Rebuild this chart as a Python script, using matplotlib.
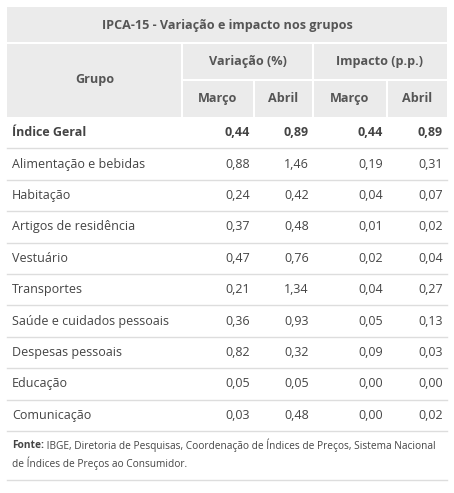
import matplotlib
matplotlib.use("Agg")
import matplotlib.pyplot as plt
from matplotlib.patches import Rectangle

plt.rcParams['font.family'] = ['Open Sans', 'DejaVu Sans']

title = "IPCA-15 - Variação e impacto nos grupos"
group_header = "Grupo"
block_headers = ["Variação (%)", "Impacto (p.p.)"]
month_headers = ["Março", "Abril", "Março", "Abril"]

grupos = ["Índice Geral", "Alimentação e bebidas", "Habitação", "Artigos de residência",
          "Vestuário", "Transportes", "Saúde e cuidados pessoais", "Despesas pessoais",
          "Educação", "Comunicação"]
var_marco = ["0,44", "0,88", "0,24", "0,37", "0,47", "0,21", "0,36", "0,82", "0,05", "0,03"]
var_abril = ["0,89", "1,46", "0,42", "0,48", "0,76", "1,34", "0,93", "0,32", "0,05", "0,48"]
imp_marco = ["0,44", "0,19", "0,04", "0,01", "0,02", "0,04", "0,05", "0,09", "0,00", "0,00"]
imp_abril = ["0,89", "0,31", "0,07", "0,02", "0,04", "0,27", "0,13", "0,03", "0,00", "0,02"]

fonte_bold = "Fonte:"
fonte_line1 = " IBGE, Diretoria de Pesquisas, Coordenação de Índices de Preços, Sistema Nacional"
fonte_line2 = "de Índices de Preços ao Consumidor."

W, H = 454, 493
fig = plt.figure(figsize=(W / 100, H / 100), dpi=100)
ax = fig.add_axes([0, 0, 1, 1])
ax.set_xlim(0, W)
ax.set_ylim(H, 0)
ax.axis('off')
renderer = fig.canvas.get_renderer()


def fit_size(s, target_px, weight='normal'):
    # font size that makes string s about target_px wide
    t = fig.text(0, 0, s, fontsize=10, fontweight=weight)
    w = t.get_window_extent(renderer=renderer).width
    t.remove()
    return 10 * target_px / w


head_bg = '#ebebeb'
head_txt = '#555555'
body_txt = '#444444'
line_col = '#dddddd'

x0, x1 = 7, 447
col_x = [182, 254, 313, 387]          # column borders
num_right = [250, 309, 383, 443]      # right edge of numbers
y_top, y_h1, y_h2, y_body = 7, 43, 80, 117
row_h = 31.4

# header background and white separators
ax.add_patch(Rectangle((x0, y_top), x1 - x0, y_body - y_top, color=head_bg, lw=0))
ax.plot([x0, x1], [y_h1, y_h1], color='white', lw=1.5)
ax.plot([col_x[0], x1], [y_h2, y_h2], color='white', lw=1.5)
for cx in (col_x[0], col_x[2]):
    ax.plot([cx, cx], [y_h1, y_body], color='white', lw=1.5)
for cx in (col_x[1], col_x[3]):
    ax.plot([cx, cx], [y_h2, y_body], color='white', lw=1.5)

hw = 'bold'
hfs = fit_size(title, 250, hw)
ax.text((x0 + x1) / 2, (y_top + y_h1) / 2, title, ha='center', va='center',
        fontsize=hfs, fontweight=hw, color=head_txt)
ax.text((x0 + col_x[0]) / 2, (y_h1 + y_body) / 2, group_header, ha='center', va='center',
        fontsize=hfs, fontweight=hw, color=head_txt)
ax.text((col_x[0] + col_x[2]) / 2, (y_h1 + y_h2) / 2, block_headers[0], ha='center', va='center',
        fontsize=hfs, fontweight=hw, color=head_txt)
ax.text((col_x[2] + x1) / 2, (y_h1 + y_h2) / 2, block_headers[1], ha='center', va='center',
        fontsize=hfs, fontweight=hw, color=head_txt)
edges = [col_x[0], col_x[1], col_x[2], col_x[3], x1]
for i, m in enumerate(month_headers):
    ax.text((edges[i] + edges[i + 1]) / 2, (y_h2 + y_body) / 2, m, ha='center', va='center',
            fontsize=hfs, fontweight=hw, color=head_txt)

# body rows
bfs = fit_size("Saúde e cuidados pessoais", 156)
columns = [var_marco, var_abril, imp_marco, imp_abril]
for i, g in enumerate(grupos):
    yc = y_body + row_h * (i + 0.5)
    wt = 'bold' if i == 0 else 'normal'
    ax.text(12, yc, g, ha='left', va='center', fontsize=bfs, fontweight=wt, color=body_txt)
    for col, xr in zip(columns, num_right):
        ax.text(xr, yc, col[i], ha='right', va='center', fontsize=bfs, fontweight=wt, color=body_txt)
    yl = y_body + row_h * (i + 1)
    ax.plot([x0, x1], [yl, yl], color=line_col, lw=1)

# source note
ffs = fit_size(fonte_bold + fonte_line1, 420)
y_f1, y_f2 = 445, 463
t = ax.text(12, y_f1, fonte_bold, ha='left', va='center', fontsize=ffs, fontweight='bold', color=body_txt)
bb = t.get_window_extent(renderer=renderer)
ax.text(12 + bb.width, y_f1, fonte_line1, ha='left', va='center', fontsize=ffs, color=body_txt)
ax.text(12, y_f2, fonte_line2, ha='left', va='center', fontsize=ffs, color=body_txt)
ax.plot([x0, x1], [480, 480], color=line_col, lw=1)

fig.savefig('out.png', dpi=100, facecolor='white')
